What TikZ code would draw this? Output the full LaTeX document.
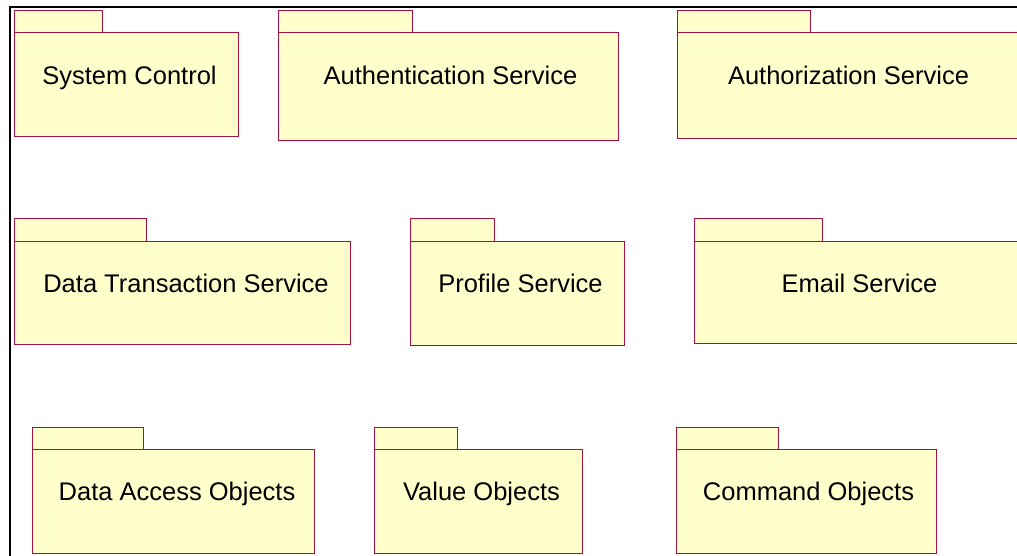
\documentclass[tikz,border=0pt]{standalone}
\usepackage{fontspec}
\setmainfont{Liberation Sans}

\definecolor{pkgfill}{RGB}{255,255,204}
\definecolor{pkgline}{RGB}{168,16,64}

\tikzset{
  pkgbody/.style={rectangle, draw=pkgline, fill=pkgfill, line width=1pt,
    inner sep=0pt, outer sep=0pt, anchor=north west},
  pkgtab/.style={pkgbody, anchor=south west, minimum height=22pt},
  pkgtext/.style={anchor=base, text=black, font=\fontsize{25.5}{30}\selectfont},
}

\begin{document}
\begin{tikzpicture}[x=1pt, y=-1pt]

\useasboundingbox (0,0) rectangle (1017,556);

% outer frame (top and left only)
\draw[line width=2pt] (10,556) -- (10,7) -- (1017,7);

% ROW 1
\node[pkgbody, minimum width=224pt, minimum height=104pt] (sysctl) at (14,33) {};
\node[pkgtab, minimum width=88pt] (sysctl-tab) at (sysctl.north west) {};
\node[pkgtext] (sysctl-text) at (129.5,85) {System Control};

\node[pkgbody, minimum width=340pt, minimum height=108pt] (authn) at (278,33) {};
\node[pkgtab, minimum width=134pt] (authn-tab) at (authn.north west) {};
\node[pkgtext] (authn-text) at (450.5,85) {Authentication Service};

\node[pkgbody, minimum width=350pt, minimum height=106pt] (authz) at (677,33) {};
\node[pkgtab, minimum width=133pt] (authz-tab) at (authz.north west) {};
\node[pkgtext] (authz-text) at (848.5,85) {Authorization Service};

% ROW 2
\node[pkgbody, minimum width=336pt, minimum height=103pt] (datatx) at (14,241) {};
\node[pkgtab, minimum width=132pt] (datatx-tab) at (datatx.north west) {};
\node[pkgtext] (datatx-text) at (186,292) {Data Transaction Service};

\node[pkgbody, minimum width=214pt, minimum height=104pt] (profile) at (410,241) {};
\node[pkgtab, minimum width=84pt] (profile-tab) at (profile.north west) {};
\node[pkgtext] (profile-text) at (520.5,292) {Profile Service};

\node[pkgbody, minimum width=340pt, minimum height=102pt] (email) at (694,241) {};
\node[pkgtab, minimum width=128pt] (email-tab) at (email.north west) {};
\node[pkgtext] (email-text) at (859.5,292) {Email Service};

% ROW 3
\node[pkgbody, minimum width=282pt, minimum height=104pt] (dao) at (32,449) {};
\node[pkgtab, minimum width=111pt] (dao-tab) at (dao.north west) {};
\node[pkgtext] (dao-text) at (177,500) {Data Access Objects};

\node[pkgbody, minimum width=208pt, minimum height=104pt] (valobj) at (374,449) {};
\node[pkgtab, minimum width=83pt] (valobj-tab) at (valobj.north west) {};
\node[pkgtext] (valobj-text) at (481.5,500) {Value Objects};

\node[pkgbody, minimum width=260pt, minimum height=104pt] (cmdobj) at (676,449) {};
\node[pkgtab, minimum width=102pt] (cmdobj-tab) at (cmdobj.north west) {};
\node[pkgtext] (cmdobj-text) at (808.5,500) {Command Objects};

\end{tikzpicture}
\end{document}
